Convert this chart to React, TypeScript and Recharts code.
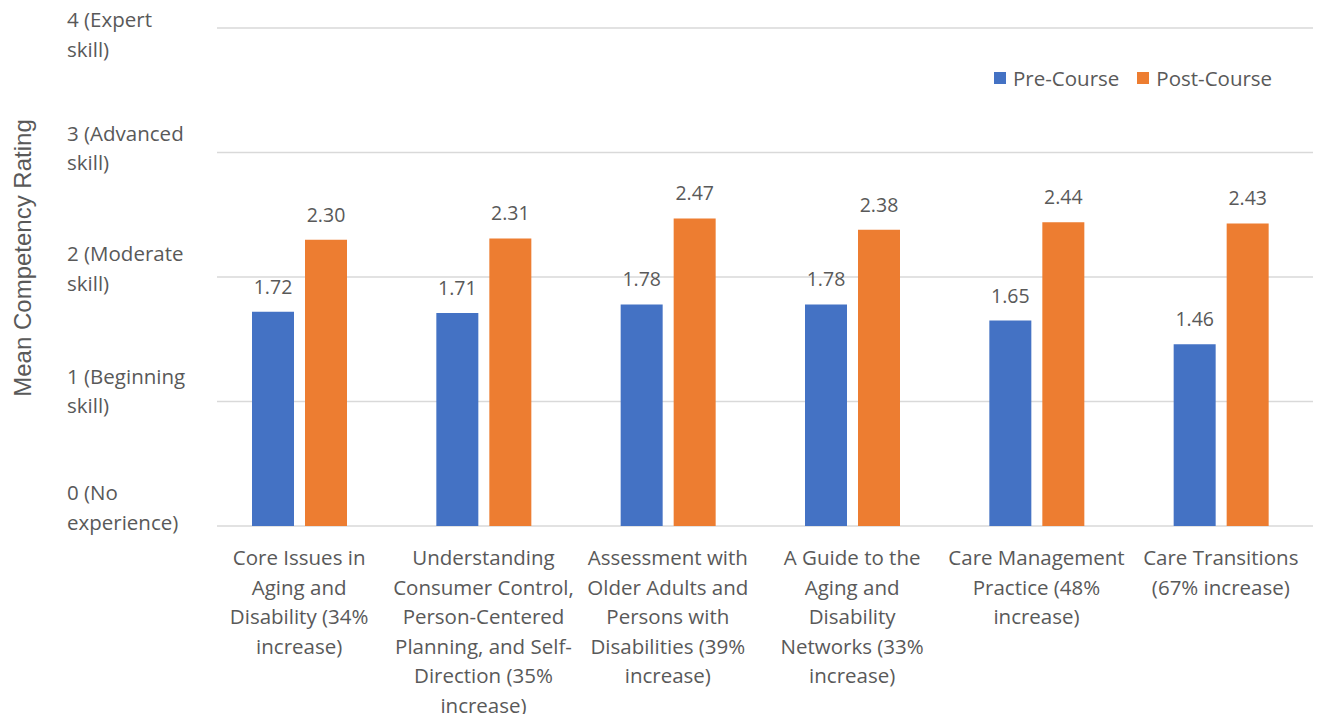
import { BarChart, Bar, XAxis, YAxis, CartesianGrid, LabelList } from "recharts";

const categories = [
  "Core Issues in\nAging and\nDisability (34%\nincrease)",
  "Understanding\nConsumer Control,\nPerson-Centered\nPlanning, and Self-\nDirection (35%\nincrease)",
  "Assessment with\nOlder Adults and\nPersons with\nDisabilities (39%\nincrease)",
  "A Guide to the\nAging and\nDisability\nNetworks (33%\nincrease)",
  "Care Management\nPractice (48%\nincrease)",
  "Care Transitions\n(67% increase)",
];
const preCourse = [1.72, 1.71, 1.78, 1.78, 1.65, 1.46];
const postCourse = [2.3, 2.31, 2.47, 2.38, 2.44, 2.43];
const yTicks = [0, 1, 2, 3, 4];
const yTickLabels = [
  "0 (No\nexperience)",
  "1 (Beginning\nskill)",
  "2 (Moderate\nskill)",
  "3 (Advanced\nskill)",
  "4 (Expert\nskill)",
];

const data = categories.map((name, i) => ({ name, pre: preCourse[i], post: postCourse[i] }));

const FONT = "'Open Sans', Lato, sans-serif";
const TITLE_FONT = "'Liberation Sans', Arial, sans-serif";
const TEXT = "#595959";
const BLUE = "#4472C4";
const ORANGE = "#ED7D31";
const GRID = "#D9D9D9";
const FS = 20.5;
const LABEL_FS = 19.5;
const LINE = 29.5;
// Excel spreads the wrapped y labels a little unevenly
const Y_SHIFT = [-34, -26, -24, -20, -9];

function XTick({ x, y, payload }: any) {
  const lines = String(payload.value).split("\n");
  return (
    <text x={x} y={y} textAnchor="middle" fill={TEXT} fontSize={FS} fontFamily={FONT}>
      {lines.map((l, i) => (
        <tspan key={i} x={x} y={y + 23 + i * LINE} dominantBaseline="central">
          {l}
        </tspan>
      ))}
    </text>
  );
}

function YTick({ y, payload }: any) {
  const v = payload.value as number;
  const lines = yTickLabels[v].split("\n");
  const top = y + Y_SHIFT[v];
  return (
    <text x={59} y={top} textAnchor="start" fill={TEXT} fontSize={FS} fontFamily={FONT}>
      {lines.map((l, i) => (
        <tspan key={i} x={59} y={top + i * LINE} dominantBaseline="central">
          {l}
        </tspan>
      ))}
    </text>
  );
}

function GridLine(props: any) {
  return <line x1={props.x1 + 10} x2={props.x2} y1={props.y1} y2={props.y2} stroke={GRID} strokeWidth={1.3} />;
}

function YLabel({ viewBox }: any) {
  const cx = 14;
  const cy = viewBox.y + viewBox.height / 2 - 19;
  return (
    <text
      x={cx}
      y={cy}
      transform={`rotate(-90, ${cx}, ${cy})`}
      textAnchor="middle"
      dominantBaseline="central"
      fill={TEXT}
      fontSize={24}
      fontFamily={TITLE_FONT}
    >
      Mean Competency Rating
    </text>
  );
}

function LegendBox() {
  const items = [
    { label: "Pre-Course", color: BLUE },
    { label: "Post-Course", color: ORANGE },
  ];
  return (
    <div
      style={{
        position: "absolute",
        top: 56,
        left: 986,
        display: "flex",
        alignItems: "center",
        fontFamily: FONT,
        fontSize: FS,
        color: TEXT,
      }}
    >
      {items.map((it) => (
        <div key={it.label} style={{ display: "flex", alignItems: "center", marginRight: 18 }}>
          <span style={{ width: 12, height: 12, background: it.color, display: "inline-block", marginRight: 7 }} />
          <span>{it.label}</span>
        </div>
      ))}
    </div>
  );
}

export default function App() {
  return (
    <div style={{ position: "relative", width: 1315, height: 706 }}>
      <BarChart
        width={1315}
        height={706}
        data={data}
        margin={{ top: 20, right: 10, left: 0, bottom: 0 }}
        barSize={42}
        barGap={11}
        style={{ fontFamily: FONT }}
      >
        <CartesianGrid vertical={false} horizontal={GridLine} />
        <XAxis dataKey="name" interval={0} height={188} axisLine={false} tickLine={false} tick={XTick} />
        <YAxis
          domain={[0, 4]}
          ticks={yTicks}
          width={199}
          axisLine={false}
          tickLine={false}
          tick={YTick}
          label={{ content: YLabel }}
        />
        <Bar dataKey="pre" name="Pre-Course" fill={BLUE} isAnimationActive={false}>
          <LabelList
            dataKey="pre"
            position="top"
            offset={18}
            fill={TEXT}
            fontSize={LABEL_FS}
            fontFamily={FONT}
            formatter={(v: any) => Number(v).toFixed(2)}
          />
        </Bar>
        <Bar dataKey="post" name="Post-Course" fill={ORANGE} isAnimationActive={false}>
          <LabelList
            dataKey="post"
            position="top"
            offset={18}
            fill={TEXT}
            fontSize={LABEL_FS}
            fontFamily={FONT}
            formatter={(v: any) => Number(v).toFixed(2)}
          />
        </Bar>
      </BarChart>
      <LegendBox />
    </div>
  );
}
